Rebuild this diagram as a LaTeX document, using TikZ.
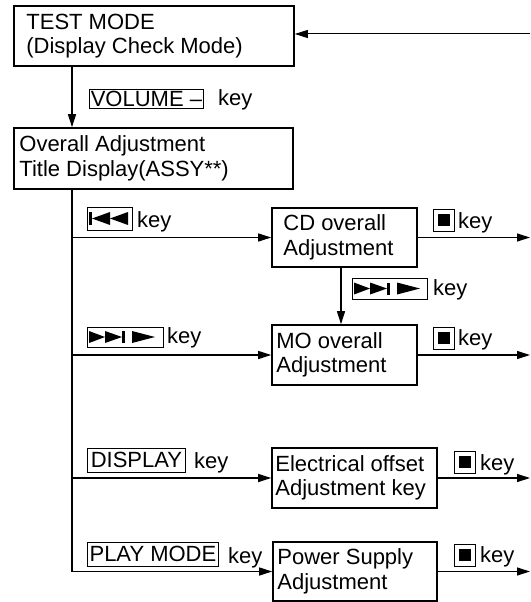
\documentclass[tikz,border=0pt]{standalone}
\usepackage{fontspec}
\setmainfont{Liberation Sans}
\usetikzlibrary{arrows.meta}
\begin{document}
\begin{tikzpicture}[x=1pt,y=-1pt,
 f/.style={font=\fontsize{22}{24.5}\selectfont},
 bx/.style={draw, line width=1.6pt, inner sep=0pt},
 txt/.style={f, align=left, inner sep=0pt, anchor=west},
 lbl/.style={draw, line width=0.9pt, f, inner sep=0pt, anchor=west},
 kw/.style={f, inner sep=0pt, anchor=base west},
 conn/.style={line width=1.2pt},
 arr/.style={conn, -{Triangle[length=13pt,width=8pt]}},
 stopbox/.style={draw, line width=0.9pt, minimum width=21pt, minimum height=22pt, inner sep=0pt, anchor=north west,
   path picture={\fill ([xshift=-6pt,yshift=-6pt]path picture bounding box.center) rectangle ([xshift=6pt,yshift=6pt]path picture bounding box.center);}},
 prevsym/.pic={\fill (2,-6.5) rectangle (5,6.5); \fill (5,0) -- (23,-6.5) -- (23,6.5) -- cycle; \fill (23,0) -- (41,-6.5) -- (41,6.5) -- cycle;},
 nextsym/.pic={\fill (2,-6) -- (18,0) -- (2,6) -- cycle; \fill (18,-6) -- (35,0) -- (18,6) -- cycle; \fill (35,-6) rectangle (38,6); \fill (45,-6) -- (68,0) -- (45,6) -- cycle;},
]
\useasboundingbox (0,0) rectangle (530,602);

% main boxes
\node[bx, minimum width=280pt, minimum height=60pt] (test) at (154,36) {};
\node[txt] (testt) at ([xshift=13pt]test.west) {TEST MODE\\(Display Check Mode)};
\node[bx, minimum width=279pt, minimum height=61pt] (overall) at (153.5,158.5) {};
\node[txt] (overallt) at ([xshift=6pt]overall.west) {Overall Adjustment\\Title Display(ASSY**)};
\node[bx, minimum width=145pt, minimum height=59pt] (cd) at (344.5,237.5) {};
\node[txt] (cdt) at ([xshift=12pt]cd.west) {CD overall\\Adjustment};
\node[bx, minimum width=145pt, minimum height=60pt] (mo) at (344.5,355) {};
\node[txt] (mot) at ([xshift=5pt]mo.west) {MO overall\\Adjustment};
\node[bx, minimum width=165pt, minimum height=60pt] (elec) at (354.5,478) {};
\node[txt] (elect) at ([xshift=4pt]elec.west) {Electrical offset\\Adjustment key};
\node[bx, minimum width=164pt, minimum height=59pt] (power) at (355,571.5) {};
\node[txt] (powert) at ([xshift=5pt]power.west) {Power Supply\\Adjustment};

% key labels
\node[lbl, minimum width=114pt, minimum height=19pt] (kvol) at (89,98.5) {VOLUME –};
\node[kw] (kvolk) at (218,105) {key};
\node[lbl, minimum width=45pt, minimum height=23pt] (kprev) at (87,218.5) {};
\pic at (kprev.west) {prevsym};
\node[kw] (kprevk) at (137,227) {key};
\node[lbl, minimum width=75pt, minimum height=21pt] (knexta) at (352,288.5) {};
\pic at (knexta.west) {nextsym};
\node[kw] (knextak) at (433,295) {key};
\node[lbl, minimum width=76pt, minimum height=20pt] (knextb) at (87,337) {};
\pic at (knextb.west) {nextsym};
\node[kw] (knextbk) at (167,343) {key};
\node[lbl, minimum width=98pt, minimum height=24pt] (kdisp) at (87,460) {DISPLAY};
\node[kw] (kdispk) at (194,468) {key};
\node[lbl, minimum width=131pt, minimum height=24pt] (kplay) at (87,554) {PLAY MODE};
\node[kw] (kplayk) at (228,563) {key};

\node[stopbox] (s1) at (433,209) {};
\node[kw] (s1k) at (458,228) {key};
\node[stopbox] (s2) at (433,327) {};
\node[kw] (s2k) at (458,345) {key};
\node[stopbox] (s3) at (454,451) {};
\node[kw] (s3k) at (480,470) {key};
\node[stopbox] (s4) at (454,544) {};
\node[kw] (s4k) at (480,562) {key};

% connectors
\coordinate (tx) at (72,0);
\coordinate (mx) at (341,0);
\coordinate (rx) at (530,0);
\coordinate (rin) at (530,34);
\draw[arr, line width=1pt] (rin) -- (rin -| test.east);
\draw[arr] (test.south -| tx) -- (overall.north -| tx);
\draw[conn] (overall.south -| tx) -- (tx |- power.west);
\draw[arr] (tx |- cd.west) -- (cd.west);
\draw[arr] (tx |- mo.west) -- (mo.west);
\draw[arr] (tx |- elec.west) -- (elec.west);
\draw[arr] (tx |- power.west) -- (power.west);
\draw[arr] (cd.south -| mx) -- (mo.north -| mx);
\draw[arr] (cd.east) -- (cd.east -| rx);
\draw[arr] (mo.east) -- (mo.east -| rx);
\draw[arr] (elec.east) -- (elec.east -| rx);
\draw[arr] (power.east) -- (power.east -| rx);
\end{tikzpicture}
\end{document}
